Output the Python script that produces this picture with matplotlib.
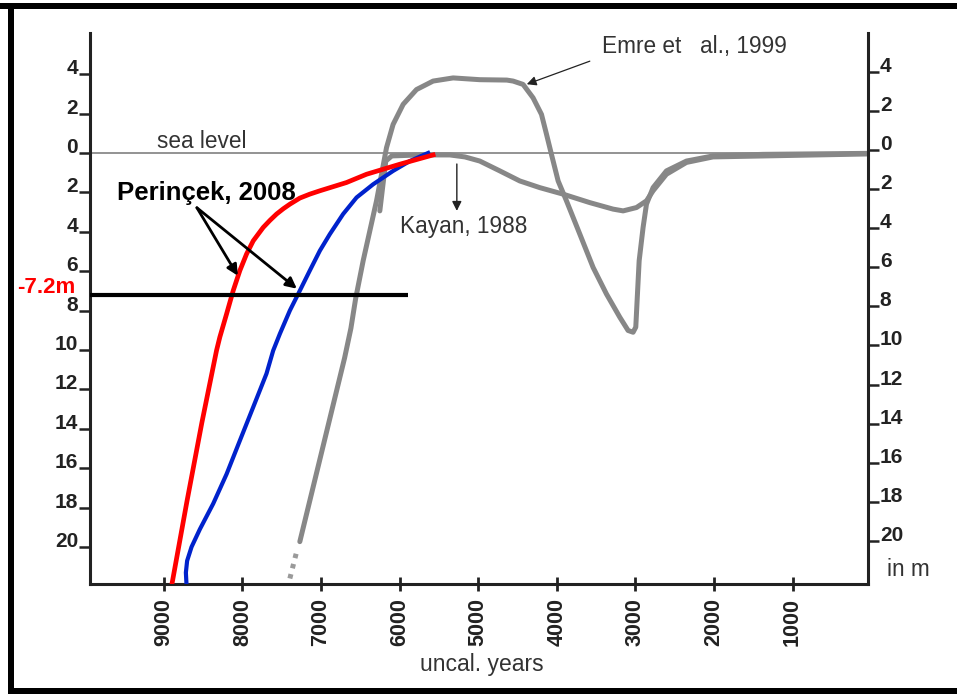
import matplotlib
matplotlib.use("Agg")
import matplotlib.pyplot as plt
from matplotlib.patches import Rectangle

plt.rcParams['font.family'] = ['Liberation Sans', 'DejaVu Sans']

# ---------------- data ----------------
x_ticks = [9000, 8000, 7000, 6000, 5000, 4000, 3000, 2000, 1000]
y_ticks = [4, 2, 0, -2, -4, -6, -8, -10, -12, -14, -16, -18, -20]
y_tick_labels = ["4", "2", "0", "2", "4", "6", "8", "10", "12", "14", "16", "18", "20"]
r_tick_labels = ["4", "2", "0", "2", "4", "6", "8", "10", "12", "14", "16", "18", "20"]

red_years = [5574, 5997, 6421, 6676, 7015, 7143, 7270, 7397, 7480, 7566, 7650, 7736, 7863, 7948,
             8033, 8118, 8202, 8288, 8330, 8517, 8707, 8898]
red_level = [-0.10, -0.57, -1.08, -1.50, -1.92, -2.09, -2.29, -2.60, -2.83, -3.10, -3.42, -3.78,
             -4.46, -5.13, -5.97, -6.99, -8.17, -9.35, -10.03, -13.7, -17.7, -21.9]

blue_years = [5637, 5870, 6083, 6337, 6548, 6719, 6888, 7015, 7143, 7270, 7397, 7524, 7609,
              7694, 7863, 8033, 8202, 8372, 8542, 8648, 8704, 8720, 8712]
blue_level = [0.0, -0.41, -0.91, -1.59, -2.26, -3.10, -4.12, -4.96, -5.97, -6.99, -8.0, -9.18, -10.03,
              -11.2, -12.9, -14.6, -16.3, -17.8, -19.1, -20.0, -20.7, -21.3, -21.9]

emre_years = [7270, 6700, 6620, 6560, 6464, 6379, 6294, 6230, 6167, 6083, 5955, 5785, 5574, 5319,
              4980, 4636, 4556, 4429, 4302, 4195, 4131, 4068, 3983, 3877, 3707, 3538, 3368,
              3198, 3093, 3029, 2995, 2978, 2952, 2902, 2859, 2775, 2605, 2350, 2012, 1376, 43]
emre_level = [-19.73, -10.4, -8.9, -7.4, -5.47, -3.95, -2.43, -1.08, 0.27, 1.45, 2.47, 3.22, 3.65,
              3.81, 3.72, 3.70, 3.65, 3.48, 2.80, 1.96, 0.95, -0.07, -1.42, -2.43, -4.12, -5.81,
              -7.16, -8.34, -9.01, -9.10, -8.84, -7.49, -5.47, -3.78, -2.60, -1.76, -0.91, -0.41,
              -0.15, -0.07, -0.02]

emre_dot_years = [7397, 7308]
emre_dot_level = [-21.6, -20.2]

kayan_years = [6252, 6214, 6176, 6100, 5743, 5361, 5170, 4980, 4725, 4471, 4216, 3920, 3580,
               3284, 3156, 2986, 2859, 2775, 2605, 2350, 2012, 43]
kayan_level = [-2.94, -1.67, -0.41, -0.15, -0.10, -0.10, -0.20, -0.41, -0.91, -1.42, -1.76, -2.09,
               -2.52, -2.85, -2.94, -2.77, -2.43, -1.92, -1.08, -0.48, -0.20, -0.05]

ref_level = -7.2
ref_line_years = [9940, 5896]

# ---------------- figure ----------------
W, H = 957, 694
fig = plt.figure(figsize=(W / 100, H / 100), dpi=100)
fig.patch.set_facecolor('white')

def fx(px):
    return px / W

def fy(py):
    return 1 - py / H

ax = fig.add_axes([fx(90), fy(584), fx(868) - fx(90), fy(33) - fy(584)])
ax.set_xlim(9940, 40)
ax.set_ylim(-21.88, 6.09)
ax.set_facecolor('none')

for s in ['top', 'right']:
    ax.spines[s].set_visible(False)
for s in ['left', 'bottom']:
    ax.spines[s].set_linewidth(2.2)
    ax.spines[s].set_color('#222222')

gray = '#878787'
txt_col = '#333333'

# sea level line
ax.axhline(0, color='#8a8a8a', lw=1.3, zorder=1)

# Emre et al. 1999
ax.plot(emre_years, emre_level, color=gray, lw=3.6, solid_capstyle='round',
        solid_joinstyle='round', zorder=2)
ax.plot(emre_dot_years, emre_dot_level, color='#9a9a9a', lw=3.6, linestyle=(0, (0.9, 1.2)),
        zorder=2)
# Kayan 1988
ax.plot(kayan_years, kayan_level, color=gray, lw=3.6, solid_capstyle='round',
        solid_joinstyle='round', zorder=2)

# Perincek 2008 curves
ax.plot(blue_years, blue_level, color='#0022cc', lw=3.0, zorder=3, solid_joinstyle='round')
ax.plot(red_years, red_level, color='#ff0000', lw=3.4, zorder=4, solid_joinstyle='round')

# -7.2 m line
ax.plot(ref_line_years, [ref_level, ref_level], color='black', lw=3.0, zorder=5,
        solid_capstyle='butt', clip_on=False)
ax.text(10132, ref_level + 0.1, "-7.2m", color='#ff0000', fontsize=16, fontweight='bold',
        ha='right', va='baseline', zorder=6, clip_on=False)

# annotations
ax.text(9598, -2.38, "Perinçek, 2008", fontsize=18.5, fontweight='bold', color='black',
        ha='left', va='baseline', zorder=6)
for tx, ty in [(8059, -6.23), (7308, -6.89)]:
    ax.annotate("", xy=(tx, ty), xytext=(8580, -2.78),
                arrowprops=dict(arrowstyle='-|>', color='black', lw=2.0,
                                mutation_scale=16, shrinkA=0, shrinkB=0), zorder=6)

ax.text(9089, 0.25, "sea level", fontsize=16.3, color=txt_col, ha='left', va='baseline')
ax.text(3427, 5.06, "Emre et   al., 1999", fontsize=16.3, color=txt_col, ha='left',
        va='baseline', clip_on=False)
ax.annotate("", xy=(4382, 3.49), xytext=(3580, 4.66),
            arrowprops=dict(arrowstyle='-|>', color='#222222', lw=0.9,
                            mutation_scale=14, shrinkA=0, shrinkB=0))
ax.text(5997, -4.05, "Kayan, 1988", fontsize=16.3, color=txt_col, ha='left', va='baseline')
ax.annotate("", xy=(5272, -2.94), xytext=(5272, -0.56),
            arrowprops=dict(arrowstyle='-|>', color='#222222', lw=1.0,
                            mutation_scale=14, shrinkA=0, shrinkB=0))

ax.text(4954, -26.3, "uncal. years", fontsize=16.5, color=txt_col, ha='center',
        va='baseline', clip_on=False)
ax.text(-198, -21.45, "in m", fontsize=16.3, color=txt_col, ha='left', va='baseline',
        clip_on=False)

# ticks
ax.set_xticks(x_ticks)
ax.set_xticklabels([str(v) for v in x_ticks], rotation=90, fontsize=15.5, fontweight='bold',
                   color='#222222')
ax.tick_params(axis='x', direction='inout', length=10, width=2.0, pad=5, color='#222222')
ax.set_yticks(y_ticks)
ax.set_yticklabels(y_tick_labels, fontsize=15, fontweight='bold', color='#222222')
ax.tick_params(axis='y', direction='out', length=8, width=1.8, pad=0.5, color='#222222')
for lab in ax.get_yticklabels():
    lab.set_va('baseline')
ax.tick_params(axis='x', which='both', top=False)

# right axis
ax2 = ax.twinx()
ax2.set_ylim(-22.2, 5.98)
for s in ['top', 'left', 'bottom']:
    ax2.spines[s].set_visible(False)
ax2.spines['right'].set_linewidth(2.2)
ax2.spines['right'].set_color('#222222')
ax2.set_yticks(y_ticks)
ax2.set_yticklabels(r_tick_labels, fontsize=15, fontweight='bold', color='#222222')
ax2.tick_params(axis='y', direction='out', length=8, width=1.8, pad=0.5, color='#222222')
for lab in ax2.get_yticklabels():
    lab.set_va('baseline')

# frame border (top, left, bottom)
fig.add_artist(Rectangle((fx(0), fy(9)), 1, fy(3) - fy(9), transform=fig.transFigure,
                         color='black', lw=0))
fig.add_artist(Rectangle((fx(8), fy(694)), fx(14) - fx(8), fy(3) - fy(694),
                         transform=fig.transFigure, color='black', lw=0))
fig.add_artist(Rectangle((fx(8), fy(694)), 1, fy(688) - fy(694), transform=fig.transFigure,
                         color='black', lw=0))

fig.savefig("out.png", dpi=100, facecolor='white')
